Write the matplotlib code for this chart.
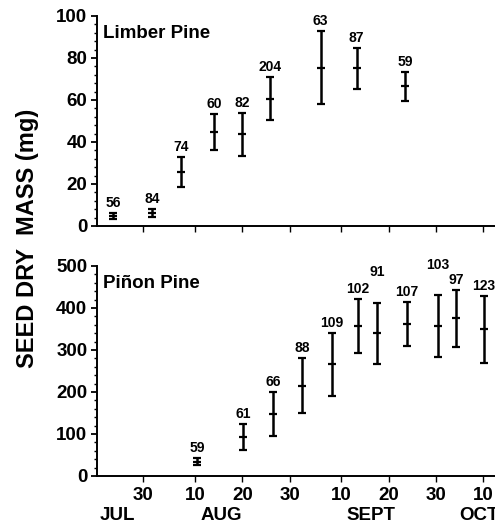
import numpy as np
import matplotlib.pyplot as plt
from matplotlib.ticker import MultipleLocator

plt.rcParams['font.family'] = ['Liberation Sans', 'DejaVu Sans']
plt.rcParams['font.weight'] = 'bold'

# sampling dates as day of year (Jul 30 = 211, Aug 10 = 222, ...)
limber_day = [204.6, 212.9, 219.0, 226.1, 232.0, 237.9, 248.6, 256.2, 266.5]
limber_mean = [4.8, 6.2, 25.7, 44.6, 43.9, 60.5, 75.4, 75.4, 66.7]
limber_lo = [3.3, 4.3, 18.6, 36.2, 33.5, 50.5, 58.1, 65.1, 59.7]
limber_hi = [6.3, 8.1, 32.9, 53.2, 54.0, 70.8, 93.0, 84.9, 73.5]
limber_n = [56, 84, 74, 60, 82, 204, 63, 87, 59]

pinon_day = [222.5, 232.2, 238.6, 244.7, 250.9, 256.5, 260.5, 266.9, 273.4, 277.3, 283.2]
pinon_mean = [34, 92, 147, 215, 266, 357, 340, 361, 358, 377, 350]
pinon_lo = [26, 62, 95, 149, 190, 294, 266, 310, 283, 308, 268]
pinon_hi = [42, 123, 199, 282, 341, 421, 413, 415, 431, 444, 429]
pinon_n = [59, 61, 66, 88, 109, 102, 91, 107, 103, 97, 123]
pinon_raise = [0, 0, 0, 0, 0, 0, 21, 0, 20, 0, 0]  # extra label lift, px

tick_days = [211, 222, 232, 242, 253, 263, 273, 283]
tick_labels = ['30', '10', '20', '30', '10', '20', '30', '10']
months = ['JUL', 'AUG', 'SEPT', 'OCT']
month_days = [205.5, 227.5, 259.3, 282.1]

fig = plt.figure(figsize=(4.95, 5.24), dpi=100)
ax1 = fig.add_axes([97/495, 1-226/524, 1-97/495, 210/524])
ax2 = fig.add_axes([97/495, 1-476/524, 1-97/495, 210/524])


def panel(ax, day, mean, lo, hi, n, ymax, major, minor, title, raise_px):
    mean = np.array(mean)
    err = [mean - np.array(lo), np.array(hi) - mean]
    ax.errorbar(day, mean, yerr=err, fmt='_', color='black', ms=6, mew=1.6,
                elinewidth=1.8, capsize=3.2, capthick=1.8)
    for i in range(len(day)):
        ax.annotate(str(n[i]), (day[i], hi[i]), xytext=(0, 4.3 + raise_px[i] * 0.72),
                    textcoords='offset points', ha='center', va='baseline',
                    fontsize=10, fontweight='bold')
    ax.set_xlim(201.25, 285.5)
    ax.set_ylim(0, ymax)
    ax.yaxis.set_major_locator(MultipleLocator(major))
    ax.yaxis.set_minor_locator(MultipleLocator(minor))
    ax.set_xticks(tick_days)
    for s in ['top', 'right']:
        ax.spines[s].set_visible(False)
    for s in ['left', 'bottom']:
        ax.spines[s].set_linewidth(1.4)
    ax.tick_params(axis='y', which='major', length=4, width=1.3, pad=3, labelsize=13.5)
    ax.tick_params(axis='y', which='minor', length=2, width=1.0)
    ax.tick_params(axis='x', length=4, width=1.0, pad=4, labelsize=13.5)
    ax.text(0.015, 0.915, title, transform=ax.transAxes, fontsize=13.5,
            fontweight='bold', va='center', ha='left')


panel(ax1, limber_day, limber_mean, limber_lo, limber_hi, limber_n, 100, 20, 4,
      'Limber Pine', [0] * len(limber_day))
panel(ax2, pinon_day, pinon_mean, pinon_lo, pinon_hi, pinon_n, 500, 100, 20,
      'Piñon Pine', pinon_raise)
ax1.set_xticklabels([])
ax2.set_xticklabels(tick_labels)

for m, d in zip(months, month_days):
    ax2.text(d, -0.19, m, transform=ax2.get_xaxis_transform(), ha='center',
             va='center', fontsize=13.5, fontweight='bold', clip_on=False)

fig.text(28/495, 1-238/524, 'SEED DRY  MASS (mg)', rotation=90, ha='center',
         va='center', fontsize=17, fontweight='bold')

fig.savefig('out.png', dpi=100)
